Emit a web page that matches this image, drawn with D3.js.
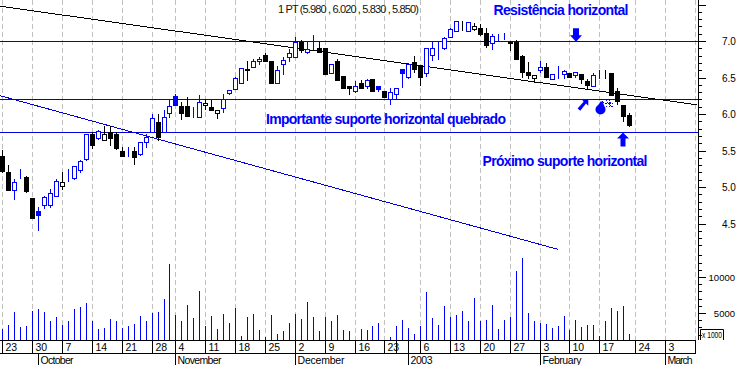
<!DOCTYPE html>
<html><head><meta charset="utf-8">
<script src="https://cdn.jsdelivr.net/npm/d3@7"></script>
<style>
html,body{margin:0;padding:0;background:#fff;overflow:hidden}
svg{display:block}
text{font-family:"Liberation Sans",Arial,sans-serif}
.tick text{fill:#000}
</style></head><body>
<svg id="c" width="738" height="365"></svg>
<script>
const title = "1 PT (5.980 , 6.020 , 5.830 , 5.850)";
const opens = [5.43,5.20,4.96,5.12,5.14,4.85,4.67,4.76,4.75,4.88,5.01,5.10,5.12,5.23,5.38,5.72,5.67,5.64,5.75,5.72,5.50,5.47,5.50,5.45,5.61,5.76,5.89,5.76,6.02,6.24,6.11,6.11,6.08,5.96,6.12,6.10,6.01,6.08,6.29,6.34,6.43,6.60,6.65,6.72,6.81,6.73,6.42,6.68,6.78,6.78,6.99,6.85,6.89,6.91,6.91,6.56,6.73,6.52,6.39,6.32,6.42,6.38,6.48,6.39,6.32,6.20,6.28,6.61,6.51,6.71,6.66,6.56,6.81,6.92,6.91,7.06,7.14,7.26,7.14,7.16,7.18,7.11,6.97,7.08,7.05,6.99,6.99,6.79,6.57,6.50,6.60,6.65,6.48,6.57,6.55,6.56,6.54,6.55,6.45,6.38,6.55,6.56,6.56,6.31,6.13,5.98];
const highs = [5.51,5.30,5.11,5.24,5.15,4.85,4.73,4.87,4.97,5.11,5.21,5.25,5.29,5.37,5.72,5.75,5.78,5.83,5.83,5.75,5.55,5.55,5.55,5.61,5.72,6.00,6.00,6.06,6.21,6.28,6.16,6.23,6.09,6.26,6.21,6.19,6.05,6.28,6.33,6.51,6.63,6.73,6.76,6.78,6.84,6.73,6.66,6.78,6.89,7.06,7.02,6.99,7.08,6.98,6.91,6.68,6.76,6.52,6.39,6.45,6.47,6.48,6.48,6.39,6.32,6.35,6.36,6.61,6.70,6.80,6.67,6.90,6.99,6.99,7.05,7.18,7.28,7.27,7.26,7.25,7.23,7.18,7.09,7.09,7.11,7.00,7.02,6.81,6.71,6.53,6.73,6.70,6.55,6.66,6.60,6.56,6.57,6.55,6.48,6.56,6.60,6.60,6.56,6.35,6.13,6.02];
const lows = [5.20,4.96,4.84,5.12,4.93,4.57,4.41,4.71,4.73,4.87,4.97,5.08,5.11,5.21,5.37,5.53,5.66,5.64,5.57,5.52,5.42,5.43,5.32,5.44,5.55,5.76,5.65,5.76,5.96,6.12,5.93,5.97,5.96,5.96,6.07,6.05,5.95,6.03,6.27,6.34,6.42,6.46,6.65,6.69,6.72,6.43,6.42,6.55,6.72,6.78,6.85,6.83,6.89,6.85,6.55,6.56,6.46,6.35,6.27,6.30,6.35,6.36,6.32,6.32,6.23,6.14,6.22,6.37,6.50,6.58,6.40,6.52,6.74,6.75,6.89,7.06,7.14,7.15,7.14,7.15,7.08,6.92,6.89,7.00,7.03,6.88,6.75,6.51,6.50,6.44,6.58,6.51,6.48,6.50,6.49,6.51,6.51,6.43,6.34,6.38,6.50,6.50,6.26,6.14,5.90,5.83];
const closes = [5.22,4.96,5.07,5.12,4.94,4.57,4.62,4.86,4.92,5.08,5.07,5.10,5.29,5.36,5.72,5.57,5.77,5.72,5.67,5.54,5.42,5.47,5.41,5.61,5.69,5.95,5.69,5.96,6.11,6.13,6.01,5.97,6.08,6.16,6.15,6.05,6.05,6.20,6.33,6.50,6.63,6.62,6.73,6.76,6.73,6.43,6.60,6.74,6.83,6.99,6.88,6.89,6.89,6.85,6.55,6.68,6.46,6.35,6.35,6.38,6.35,6.47,6.32,6.34,6.23,6.30,6.36,6.56,6.68,6.61,6.51,6.90,6.91,6.92,7.04,7.17,7.27,7.26,7.26,7.21,7.10,6.94,7.07,7.08,7.05,6.97,6.76,6.58,6.53,6.53,6.65,6.51,6.55,6.57,6.59,6.51,6.57,6.48,6.40,6.53,6.55,6.56,6.26,6.18,5.97,5.85];
const tones = "kkbbkkbbbbkbbbbkbkkkkbkbbbkbbbkkbbkkkbbbbkbbkkbbbbkbbkkbkkkbkbkbkbbbbkkbbbbbbkbkkkbbbkkkkkbkbbbkbkkbbkkkkk".split("");
const volumes = [2720,3270,5180,3000,3130,5320,5590,5180,3820,4500,3270,3950,5590,5860,6410,3950,2720,2860,4230,3820,2860,3130,3410,4640,3820,5050,5180,6960,11870,4770,3950,6140,4360,8050,3130,4640,2720,4910,3680,5730,1770,4500,4910,2590,1630,4770,2040,2450,3680,4910,4230,6550,4500,2450,4500,3820,4770,2590,2450,null,2720,2590,3130,3680,null,1630,3130,4090,2860,2040,3130,7910,4360,3270,6000,4500,4770,5320,3820,7090,3820,4090,6140,2720,4090,4500,10900,12700,5050,3950,3680,3410,2860,3130,4640,2590,4090,3000,3270,3270,1770,3950,5730,5320,6000,2040];
const weekIdx = [0,5,10,15,20,25,29,34,39,44,49,54,59,64,70,75,80,85,90,95,100,106,111];
const weekLabels = ["23","30","7","14","21","28","4","11","18","25","2","9","16","23","6","13","20","27","3","10","17","24","3"];
const plainTickIdx = [66,68,116];
const monthIdx = [6,29,49,68,90,111];
const monthLabels = ["October","November","December","2003","February","March"];
const monthWidths = [33,44,47,22,39,25];
const priceMajor = [7.5,7.0,6.5,6.0,5.5,5.0,4.5];
const priceLabels = [7.0,6.5,6.0,5.5,5.0,4.5];
const priceMinor = d3.range(42,76).map(v=>v/10);
const volMajor = [10000,5000];
const volMinor = [2000,3000,4000,6000,7000,8000,9000,11000,12000,13000];
const levels = [7.0,6.21,5.76];
const blackTrend = [[-0.39,7.48],[116.4,6.12]];
const blueTrend = [[-0.39,6.247],[93.08,4.13]];

const BLUE="#0000ff", LINE="#0000dd";
const svg=d3.select("#c");
const x=d3.scaleLinear().domain([0,105]).rangeRound([2.33,629.2]);
const y=d3.scaleLinear().domain([7,6]).rangeRound([41,114]);
const yFine=d3.scaleLinear().domain([7,6]).range([41,113.6]);
const yV=d3.scaleLinear().domain([5000,10000]).rangeRound([313,277]);
const AXX=698, BOT=340, ROW2=353;

// grid
const gridIdx=d3.sort(weekIdx.concat([116]));
svg.append("g").selectAll("line").data(gridIdx).join("line")
  .attr("x1",d=>x(d)+.5).attr("x2",d=>x(d)+.5).attr("y1",0).attr("y2",BOT)
  .attr("stroke","#c0c0c0").attr("stroke-dasharray","5,3");

// levels & trends
svg.append("g").selectAll("line").data(levels).join("line")
  .attr("x1",0).attr("x2",AXX).attr("y1",d=>y(d)+.5).attr("y2",d=>y(d)+.5)
  .attr("stroke",LINE);
const tl=d3.line().x(d=>x(d[0])).y(d=>yFine(d[1]));
svg.append("path").attr("d",tl(blackTrend)).attr("stroke","#000").attr("fill","none").attr("shape-rendering","crispEdges");
svg.append("path").attr("d",tl(blueTrend)).attr("stroke",LINE).attr("fill","none").attr("shape-rendering","crispEdges");

// candles
const data=opens.map((o,i)=>({i,o,h:highs[i],l:lows[i],c:closes[i],tone:tones[i]==="b"?BLUE:"#000"}));
const g=svg.append("g").selectAll("g").data(data).join("g");
g.append("line").attr("x1",d=>x(d.i)+.5).attr("x2",d=>x(d.i)+.5)
  .attr("y1",d=>y(d.h)).attr("y2",d=>y(d.l)+1).attr("stroke",d=>d.tone);
g.append("rect").attr("x",d=>x(d.i)-1.5).attr("width",4)
  .attr("y",d=>y(Math.max(d.o,d.c))+.5)
  .attr("height",d=>Math.abs(y(d.o)-y(d.c)))
  .attr("fill",d=>d.c>=d.o?"#fff":d.tone).attr("stroke",d=>d.tone);

// volume
svg.append("g").selectAll("line").data(volumes.map((v,i)=>({v,i})).filter(d=>d.v!==null)).join("line")
  .attr("x1",d=>x(d.i)+.5).attr("x2",d=>x(d.i)+.5)
  .attr("y1",d=>yV(d.v)).attr("y2",BOT).attr("stroke",BLUE);

// right axes
function rightAxis(scale,vals,size){
  const a=d3.axisRight(scale).tickValues(vals).tickSize(size).tickSizeOuter(0).tickFormat("");
  const s=svg.append("g").attr("transform",`translate(${AXX},0)`).call(a);
  s.select(".domain").remove();
  s.selectAll("line").attr("stroke","#000");
  return s;
}
svg.append("line").attr("x1",AXX+.5).attr("x2",AXX+.5).attr("y1",0).attr("y2",BOT).attr("stroke","#000");
rightAxis(y,priceMinor.filter(v=>!priceMajor.some(m=>Math.abs(m-v)<1e-6)),4);
rightAxis(y,priceMajor,8);
priceLabels.forEach(v=>{
  svg.append("text").attr("x",722).attr("y",y(v)+4).attr("text-anchor","start")
    .attr("font-size",10).text(v.toFixed(1));
});
rightAxis(yV,volMinor,4);
rightAxis(yV,volMajor,8);
volMajor.forEach(v=>{
  svg.append("text").attr("x",735).attr("y",yV(v)+4).attr("text-anchor","end")
    .attr("font-size",9.5).text(String(v));
});

// x1000 box
svg.append("path").attr("d","M700.5,340V329.5H723.5V340").attr("fill","none").attr("stroke","#000");
svg.append("text").attr("x",702).attr("y",338).attr("font-size",9).attr("textLength",20).attr("lengthAdjust","spacingAndGlyphs").text("x 1000");

// bottom axes
const xAxis=d3.axisBottom(x).tickValues(weekIdx).tickSize(ROW2-BOT).tickSizeOuter(0)
  .tickFormat((d,i)=>weekLabels[i]);
const ax=svg.append("g").attr("transform",`translate(0,${BOT})`).call(xAxis);
ax.select(".domain").remove();
ax.selectAll("line").attr("stroke","#000");
ax.selectAll("text").attr("text-anchor","start").attr("x",3).attr("y",11).attr("dy",0)
  .attr("font-size",10.5).attr("font-family","Liberation Sans");
const ax2=svg.append("g").attr("transform",`translate(0,${BOT})`)
  .call(d3.axisBottom(x).tickValues(plainTickIdx).tickSize(ROW2-BOT).tickSizeOuter(0).tickFormat(""));
ax2.select(".domain").remove(); ax2.selectAll("line").attr("stroke","#000");
const ax3=svg.append("g").attr("transform",`translate(0,${ROW2})`)
  .call(d3.axisBottom(x).tickValues(monthIdx).tickSize(12).tickSizeOuter(0)
    .tickFormat((d,i)=>monthLabels[i]));
ax3.select(".domain").remove(); ax3.selectAll("line").attr("stroke","#000");
ax3.selectAll("text").attr("text-anchor","start").attr("x",2).attr("y",11).attr("dy",0)
  .attr("font-size",10.5).attr("font-family","Liberation Sans")
  .attr("textLength",(d,i)=>monthWidths[i]).attr("lengthAdjust","spacing");
[BOT,ROW2].forEach(v=>svg.append("line").attr("x1",0).attr("x2",x(116)+1).attr("y1",v+.5).attr("y2",v+.5).attr("stroke","#000"));

// title & annotations
svg.append("text").attr("x",278).attr("y",13).attr("font-size",11).attr("fill","#111")
  .attr("textLength",141).attr("lengthAdjust","spacing").text(title);
[["Resistência horizontal",493.5,15,135],
 ["Importante suporte horizontal quebrado",266,124,240],
 ["Próximo suporte horizontal",482.5,166,165]].forEach(([t,px,py,w])=>{
  svg.append("text").attr("x",px).attr("y",py).attr("font-size",14).attr("font-weight","bold")
    .attr("fill",BLUE).attr("textLength",w).attr("lengthAdjust","spacing").text(t);
});

// arrows
const glyph=(i,dx,p,d)=>svg.append("path").attr("transform",`translate(${x(i)+dx},${yFine(p)})`).attr("d",d).attr("fill",BLUE);
glyph(104,0,5.74,"M0,0L6,6H2.5V14H-2.5V6H-6Z");
glyph(96,1,6.99,"M0,0L-6,-6.5H-3V-13.5H3V-6.5H6Z");
glyph(98,1.3,6.2,"M-6.7,0H0V6.7L-2.3,4.3L-8,11.7L-10.7,9.3L-4.7,2.7Z");
// bomb icon
const bx=x(100)+1.5, by=yFine(6.056);
svg.append("circle").attr("cx",bx).attr("cy",by).attr("r",5).attr("fill",BLUE);
svg.append("path").attr("transform",`translate(${bx},${by})`).attr("d","M-2.5,-4L0,-8H2L4,-3Z").attr("fill",BLUE);
svg.append("path").attr("transform",`translate(${bx},${by})`)
  .attr("d","M1,-8L5,-6M5.5,-9L12,-2.5M12,-9L5.5,-2.5M9,-10V-2M5,-6H13")
  .attr("stroke",BLUE).attr("stroke-dasharray","1,1").attr("fill","none").attr("shape-rendering","crispEdges");
</script>
</body></html>
